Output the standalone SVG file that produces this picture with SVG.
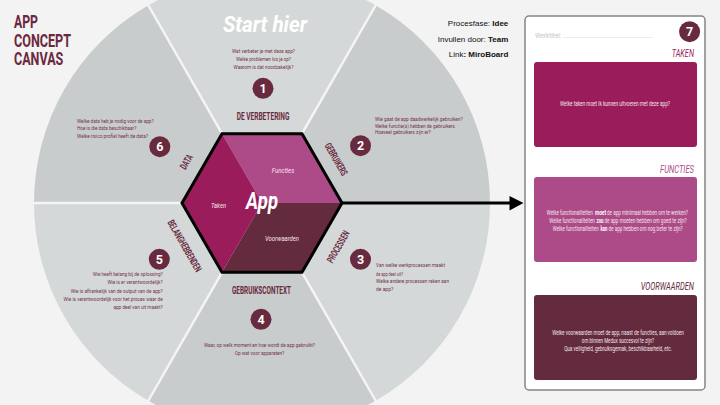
<svg xmlns="http://www.w3.org/2000/svg" width="720" height="405" viewBox="0 0 720 405">
<defs>
<style>
text{font-family:"Liberation Sans Narrow","Roboto","Liberation Sans",sans-serif;}
.q{font-size:6px;fill:#74344d;}
.lbl{font-size:10px;font-weight:bold;fill:#6a2a40;}
.num{font-size:12.5px;font-weight:bold;fill:#ffffff;text-anchor:middle;}
.dot{fill:#682a3e;}
.light{fill:#d5d8d8;}
.dark{fill:#c9cccc;}
.sep{stroke:#f4f5f5;stroke-width:2.5;}
.bq{font-size:6.3px;fill:#f4e6ee;}
.b{font-weight:bold;fill:#ffffff;}
.info{font-family:"Liberation Sans",Arial,sans-serif;font-size:8px;fill:#111;text-anchor:end;}
.head{font-size:10px;font-style:italic;text-anchor:end;}
.in{font-size:7px;font-style:italic;fill:#f6e4ee;text-anchor:middle;}
.mid{text-anchor:middle;}
.end{text-anchor:end;}
</style>
</defs>
<rect width="720" height="405" fill="#f2f3f2"/>

<g id="title">
<text transform="matrix(0.7,0,0,1,14,28.3)" font-size="18" font-weight="bold" fill="#6b2840" textLength="34.3" lengthAdjust="spacingAndGlyphs">APP</text>
<text transform="matrix(0.7,0,0,1,14,47.3)" font-size="18" font-weight="bold" fill="#6b2840" textLength="81.4" lengthAdjust="spacingAndGlyphs">CONCEPT</text>
<text transform="matrix(0.7,0,0,1,14,65)" font-size="18" font-weight="bold" fill="#6b2840" textLength="70.4" lengthAdjust="spacingAndGlyphs">CANVAS</text>
</g>

<g id="seg1">
<path class="light" d="M262,203 L376,5.55 A228,228 0 0,0 148,5.55 Z"/>
<text transform="matrix(0.8,0,0,1,265,31.7)" font-size="22" font-weight="bold" font-style="italic" fill="#ffffff" text-anchor="middle" textLength="105" lengthAdjust="spacingAndGlyphs">Start hier</text>
<text class="q mid" transform="matrix(0.72,0,0,1,263.5,53)" textLength="87.5" lengthAdjust="spacingAndGlyphs">Wat verbeter je met deze app?</text>
<text class="q mid" transform="matrix(0.72,0,0,1,263.5,60.5)" textLength="76.4" lengthAdjust="spacingAndGlyphs">Welke problemen los je op?</text>
<text class="q mid" transform="matrix(0.72,0,0,1,263.5,68.5)" textLength="83.3" lengthAdjust="spacingAndGlyphs">Waarom is dat noodzakelijk?</text>
<circle class="dot" cx="263" cy="88.3" r="10.5"/>
<text class="num" x="263" y="92.8">1</text>
<text class="lbl mid" transform="matrix(0.65,0,0,1,263,120)" textLength="81.1" lengthAdjust="spacingAndGlyphs">DE VERBETERING</text>
</g>

<g id="seg2">
<path class="dark" d="M262,203 L490,203 A228,228 0 0,0 376,5.55 Z"/>
<text class="q" transform="matrix(0.72,0,0,1,375,121)" textLength="121.8" lengthAdjust="spacingAndGlyphs">Wie gaat de app daadwerkelijk gebruiken?</text>
<text class="q" transform="matrix(0.72,0,0,1,375,127.7)" textLength="111.1" lengthAdjust="spacingAndGlyphs">Welke functie(s) hebben de gebruikers</text>
<text class="q" transform="matrix(0.72,0,0,1,375,134.4)" textLength="77.4" lengthAdjust="spacingAndGlyphs">Hoeveel gebruikers zijn er?</text>
<circle class="dot" cx="360.5" cy="145.7" r="10.5"/>
<text class="num" x="360.5" y="150.2">2</text>
<text class="lbl mid" transform="translate(336.3,159.2) rotate(60) scale(0.65,1)" x="0" y="3.6" textLength="55.4" lengthAdjust="spacingAndGlyphs">GEBRUIKERS</text>
</g>

<g id="seg3">
<path class="light" d="M262,203 L376,400.45 A228,228 0 0,0 490,203 Z"/>
<circle class="dot" cx="360.5" cy="259.3" r="10.5"/>
<text class="num" x="360.5" y="263.8">3</text>
<text class="q" transform="matrix(0.72,0,0,1,376,267)" textLength="95.8" lengthAdjust="spacingAndGlyphs">Van welke werkprocessen maakt</text>
<text class="q" transform="matrix(0.72,0,0,1,376,275.5)" textLength="37.5" lengthAdjust="spacingAndGlyphs">de app deel uit?</text>
<text class="q" transform="matrix(0.72,0,0,1,376,283)" textLength="101.4" lengthAdjust="spacingAndGlyphs">Welke andere processen raken aan</text>
<text class="q" transform="matrix(0.72,0,0,1,376,290.5)" textLength="24" lengthAdjust="spacingAndGlyphs">de app?</text>
<text class="lbl mid" transform="translate(338,246.7) rotate(-60) scale(0.65,1)" x="0" y="3.6" textLength="53.8" lengthAdjust="spacingAndGlyphs">PROCESSEN</text>
</g>

<g id="seg4">
<path class="dark" d="M262,203 L148,400.45 A228,228 0 0,0 376,400.45 Z"/>
<text class="lbl mid" transform="matrix(0.65,0,0,1,261.5,294)" textLength="90.8" lengthAdjust="spacingAndGlyphs">GEBRUIKSCONTEXT</text>
<circle class="dot" cx="261" cy="319.3" r="10.5"/>
<text class="num" x="261" y="323.8">4</text>
<text class="q mid" transform="matrix(0.72,0,0,1,259.5,347)" textLength="154.2" lengthAdjust="spacingAndGlyphs">Waar, op welk moment en hoe wordt de app gebruikt?</text>
<text class="q mid" transform="matrix(0.72,0,0,1,259.5,355)" textLength="69" lengthAdjust="spacingAndGlyphs">Op wat voor apparaten?</text>
</g>

<g id="seg5">
<path class="light" d="M262,203 L34,203 A228,228 0 0,0 148,400.45 Z"/>
<circle class="dot" cx="159.3" cy="259.3" r="10.5"/>
<text class="num" x="159.3" y="263.8">5</text>
<text class="q end" transform="matrix(0.72,0,0,1,162.7,276)" textLength="97.2" lengthAdjust="spacingAndGlyphs">Wie heeft belang bij de oplossing?</text>
<text class="q end" transform="matrix(0.72,0,0,1,162.7,284.3)" textLength="76.8" lengthAdjust="spacingAndGlyphs">Wie is er verantwoordelijk?</text>
<text class="q end" transform="matrix(0.72,0,0,1,162.7,292.6)" textLength="127.8" lengthAdjust="spacingAndGlyphs">Wie is afhankelijk van de output van de app?</text>
<text class="q end" transform="matrix(0.72,0,0,1,162.7,300.9)" textLength="137.9" lengthAdjust="spacingAndGlyphs">Wie is verantwoordelijk voor het proces waar de</text>
<text class="q end" transform="matrix(0.72,0,0,1,162.7,309.2)" textLength="68.5" lengthAdjust="spacingAndGlyphs">app deel van uit maakt?</text>
<text class="lbl mid" transform="translate(184.8,245.8) rotate(60) scale(0.65,1)" x="0" y="3.6" textLength="89.2" lengthAdjust="spacingAndGlyphs">BELANGHEBBENDEN</text>
</g>

<g id="seg6">
<path class="dark" d="M262,203 L148,5.55 A228,228 0 0,0 34,203 Z"/>
<text class="q" transform="matrix(0.72,0,0,1,77,123)" textLength="106.5" lengthAdjust="spacingAndGlyphs">Welke data heb je nodig voor de app?</text>
<text class="q" transform="matrix(0.72,0,0,1,77,130.3)" textLength="82.4" lengthAdjust="spacingAndGlyphs">Hoe is die data beschikbaar?</text>
<text class="q" transform="matrix(0.72,0,0,1,77,138)" textLength="98.6" lengthAdjust="spacingAndGlyphs">Welke risico profiel heeft de data?</text>
<circle class="dot" cx="159.8" cy="146.7" r="10.5"/>
<text class="num" x="159.8" y="151.2">6</text>
<text class="lbl mid" transform="translate(186.3,161.7) rotate(-60) scale(0.65,1)" x="0" y="3.6" textLength="23.8" lengthAdjust="spacingAndGlyphs">DATA</text>
</g>

<g id="separators">
<line class="sep" x1="222" y1="133.7" x2="147" y2="3"/>
<line class="sep" x1="302" y1="133.7" x2="377" y2="3"/>
<line class="sep" x1="222" y1="272.3" x2="147" y2="403"/>
<line class="sep" x1="302" y1="272.3" x2="377" y2="403"/>
<line class="sep" x1="182" y1="203" x2="33" y2="203"/>
</g>

<g id="app">
<path d="M222,133.7 L302,133.7 L342,203 L262,203 Z" fill="#ad4a88"/>
<path d="M342,203 L302,272.3 L222,272.3 L262,203 Z" fill="#642a3d"/>
<path d="M222,133.7 L262,203 L222,272.3 L182,203 Z" fill="#9a1c5b"/>
<path d="M222,133.7 L302,133.7 L342,203 L302,272.3 L222,272.3 L182,203 Z" fill="none" stroke="#000" stroke-width="3"/>
<text class="in" transform="matrix(0.75,0,0,1,283,173)" textLength="30.3" lengthAdjust="spacingAndGlyphs">Functies</text>
<text class="in" transform="matrix(0.75,0,0,1,218.5,208)" font-size="6.5" textLength="20" lengthAdjust="spacingAndGlyphs">Taken</text>
<text class="in" transform="matrix(0.75,0,0,1,282,241)" textLength="45.3" lengthAdjust="spacingAndGlyphs">Voorwaarden</text>
<text transform="matrix(0.85,0,0,1,262,208.5)" font-size="23" font-weight="bold" font-style="italic" fill="#ffffff" text-anchor="middle" textLength="37.6" lengthAdjust="spacingAndGlyphs">App</text>
</g>

<g id="connectors">
<line x1="342" y1="203" x2="511" y2="203" stroke="#000" stroke-width="3"/>
<polygon points="509.5,196 523.5,203 509.5,210.5" fill="#000"/>
</g>

<g id="info">
<text class="info" x="508.3" y="26">Procesfase: <tspan font-weight="bold">Idee</tspan></text>
<text class="info" x="508.3" y="41.7">Invullen door: <tspan font-weight="bold">Team</tspan></text>
<text class="info" x="508.3" y="57.3">Link<tspan font-weight="bold">: MiroBoard</tspan></text>
</g>

<g id="panel">
<rect x="525" y="16" width="180" height="374" rx="4" fill="#ffffff" stroke="#858585" stroke-width="1.5"/>
<text transform="matrix(0.75,0,0,1,535,37.5)" font-size="8" fill="#c4c4c4" textLength="157.3" lengthAdjust="spacingAndGlyphs">Werktitel: ......................................................</text>
<circle class="dot" cx="689.6" cy="31.7" r="10.5"/>
<text class="num" x="689.6" y="36.2">7</text>
</g>

<g id="taken">
<text class="head" transform="matrix(0.75,0,0,1,694,57.3)" fill="#9a1c5b" textLength="29.7" lengthAdjust="spacingAndGlyphs">TAKEN</text>
<rect x="534" y="62" width="163" height="85" rx="3" fill="#9a1c5b"/>
<text class="bq mid" transform="matrix(0.72,0,0,1,615,105.5)" textLength="152.8" lengthAdjust="spacingAndGlyphs">Welke taken moet ik kunnen uitvoeren met deze app?</text>
</g>

<g id="functies">
<text class="head" transform="matrix(0.75,0,0,1,694,172.5)" fill="#ad4a88" textLength="45.3" lengthAdjust="spacingAndGlyphs">FUNCTIES</text>
<rect x="534" y="177" width="163" height="85" rx="3" fill="#ad4a88"/>
<text class="bq" transform="matrix(0.72,0,0,1,546.7,214.5)" textLength="63.9" lengthAdjust="spacingAndGlyphs">Welke functionaliteiten</text>
<text class="bq b" transform="matrix(0.72,0,0,1,595,214.5)" textLength="15.3" lengthAdjust="spacingAndGlyphs">moet</text>
<text class="bq" transform="matrix(0.72,0,0,1,607,214.5)" textLength="112.5" lengthAdjust="spacingAndGlyphs">de app minimaal hebben om te werken?</text>
<text class="bq" transform="matrix(0.72,0,0,1,549.3,222.8)" textLength="63.2" lengthAdjust="spacingAndGlyphs">Welke functionaliteiten</text>
<text class="bq b" transform="matrix(0.72,0,0,1,596.5,222.8)" textLength="9.7" lengthAdjust="spacingAndGlyphs">zou</text>
<text class="bq" transform="matrix(0.72,0,0,1,604.5,222.8)" textLength="114.2" lengthAdjust="spacingAndGlyphs">de app moeten hebben om goed te zijn?</text>
<text class="bq" transform="matrix(0.72,0,0,1,552.7,231.1)" textLength="63.9" lengthAdjust="spacingAndGlyphs">Welke functionaliteiten</text>
<text class="bq b" transform="matrix(0.72,0,0,1,600.5,231.1)" textLength="9.7" lengthAdjust="spacingAndGlyphs">kan</text>
<text class="bq" transform="matrix(0.72,0,0,1,608.5,231.1)" textLength="103" lengthAdjust="spacingAndGlyphs">de app hebben om nog beter te zijn?</text>
</g>

<g id="voorwaarden">
<text class="head" transform="matrix(0.75,0,0,1,694,290)" fill="#642a3d" textLength="71.1" lengthAdjust="spacingAndGlyphs">VOORWAARDEN</text>
<rect x="534" y="295" width="163" height="85" rx="3" fill="#642a3d"/>
<text class="bq mid" transform="matrix(0.72,0,0,1,618,334.5)" textLength="182.9" lengthAdjust="spacingAndGlyphs">Welke voorwaarden moet de app, naast de functies, aan voldoen</text>
<text class="bq mid" transform="matrix(0.72,0,0,1,618,342.8)" textLength="100.4" lengthAdjust="spacingAndGlyphs">om binnen Medux succesvol te zijn?</text>
<text class="bq mid" transform="matrix(0.72,0,0,1,618,351.1)" textLength="149.6" lengthAdjust="spacingAndGlyphs">Qua veiligheid, gebruiksgemak, beschikbaarheid, etc.</text>
</g>
</svg>
